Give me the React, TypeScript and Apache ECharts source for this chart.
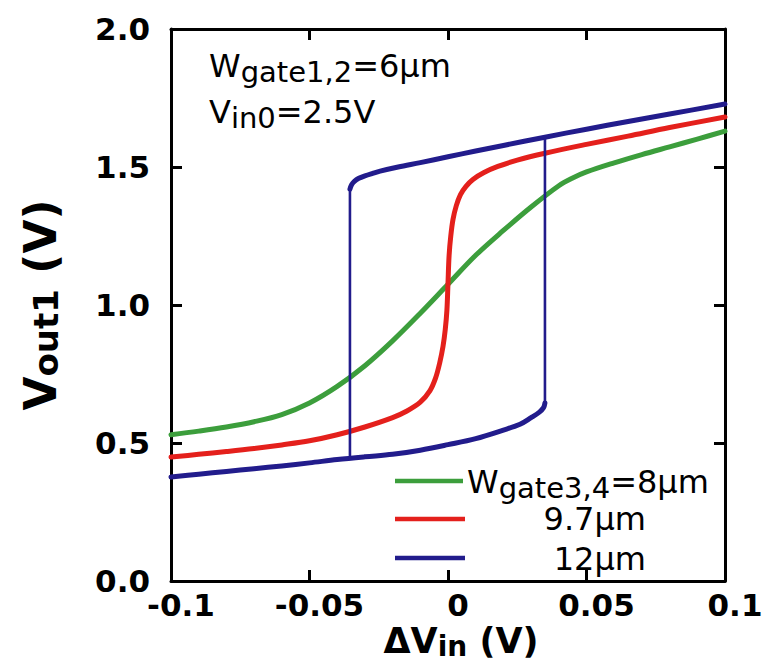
import React, { useEffect, useRef } from 'react';
import * as echarts from 'echarts';

// ---------- data ----------
const X_TICKS = [-0.1, -0.05, 0, 0.05, 0.1];
const X_TICK_LABELS = ['-0.1', '-0.05', '0', '0.05', '0.1'];
const Y_TICKS = [0, 0.5, 1.0, 1.5, 2.0];
const Y_TICK_LABELS = ['0.0', '0.5', '1.0', '1.5', '2.0'];

const SERIES_NAMES = ['Wgate3,4=8μm', '9.7μm', '12μm'];

// Wgate3,4 = 8 µm
const dvGreen = [-0.1, -0.09, -0.08, -0.07, -0.06, -0.05, -0.04, -0.03, -0.02, -0.01, 0, 0.01, 0.02, 0.03, 0.04, 0.045, 0.05, 0.06, 0.07, 0.08, 0.09, 0.1];
const voutGreen = [0.53, 0.543, 0.558, 0.577, 0.603, 0.645, 0.705, 0.78, 0.87, 0.97, 1.075, 1.18, 1.27, 1.355, 1.432, 1.46, 1.482, 1.515, 1.545, 1.573, 1.601, 1.63];

// 9.7 µm
const dvRed = [-0.1, -0.09, -0.08, -0.07, -0.06, -0.05, -0.04, -0.03, -0.02, -0.015, -0.01, -0.0065, -0.0045, -0.003, -0.0018, -0.001, -0.0004, 0, 0.0004, 0.001, 0.0018, 0.003, 0.0045, 0.0065, 0.009, 0.013, 0.018, 0.025, 0.035, 0.05, 0.065, 0.08, 0.1];
const voutRed = [0.449, 0.459, 0.469, 0.48, 0.493, 0.508, 0.53, 0.558, 0.592, 0.615, 0.648, 0.69, 0.735, 0.79, 0.85, 0.91, 0.98, 1.08, 1.18, 1.25, 1.31, 1.36, 1.4, 1.43, 1.455, 1.48, 1.502, 1.525, 1.55, 1.582, 1.612, 1.643, 1.681];

// 12 µm, lower branch (sweep up)
const dvBlueLow = [-0.1, -0.09, -0.08, -0.07, -0.06, -0.05, -0.04, -0.03, -0.02, -0.01, 0, 0.01, 0.02, 0.026, 0.03, 0.033, 0.0345, 0.035];
const voutBlueLow = [0.377, 0.387, 0.397, 0.407, 0.417, 0.428, 0.44, 0.45, 0.459, 0.474, 0.494, 0.516, 0.547, 0.568, 0.592, 0.612, 0.628, 0.645];
// 12 µm, upper branch (sweep down)
const dvBlueHigh = [-0.0354, -0.0348, -0.0338, -0.0322, -0.03, -0.0272, -0.0245, -0.018, -0.01, 0, 0.01, 0.02, 0.035, 0.05, 0.065, 0.08, 0.1];
const voutBlueHigh = [1.42, 1.436, 1.448, 1.459, 1.468, 1.477, 1.485, 1.5, 1.516, 1.537, 1.558, 1.578, 1.608, 1.637, 1.665, 1.692, 1.728];
// 12 µm switching points
const dvBlueSwitch = [0.035, -0.0354];
const voutBlueSwitchFrom = [0.645, 1.42];
const voutBlueSwitchTo = [1.608, 0.44];

// ---------- styles ----------
const GREEN = '#3c9e3c';
const RED = '#e4201c';
const BLUE = '#221c8c';
const FONT = 'DejaVu Sans';

const zip = (xs: number[], ys: number[]) => xs.map((x, i) => [x, ys[i]]);

const labelFor = (v: number, ticks: number[], labels: string[]) => {
  let best = 0;
  for (let i = 1; i < ticks.length; i++) {
    if (Math.abs(ticks[i] - v) < Math.abs(ticks[best] - v)) best = i;
  }
  return labels[best];
};

const axisCommon: any = {
  type: 'value',
  axisLine: { show: true, onZero: false, lineStyle: { color: '#000', width: 3 } },
  axisTick: { show: true, inside: true, length: 11, lineStyle: { color: '#000', width: 3 } },
  splitLine: { show: false },
};

const curve = (name: string, color: string, data: number[][]) => ({
  name,
  type: 'line',
  data,
  showSymbol: false,
  symbol: 'none',
  smooth: 0.35,
  lineStyle: { color, width: 5, cap: 'round', join: 'round' },
  itemStyle: { color },
  z: 3,
});

const vertical = (color: string, x: number, y0: number, y1: number) => ({
  type: 'line',
  data: [[x, y0], [x, y1]],
  showSymbol: false,
  symbol: 'none',
  lineStyle: { color, width: 2.6 },
  itemStyle: { color },
  z: 4,
});

const richText = (color: string, main: number, sub: number, subShift: number, bold = false) => ({
  m: { fontFamily: FONT, fontSize: main, color, lineHeight: 46, fontWeight: bold ? 'bold' : 'normal' },
  s: { fontFamily: FONT, fontSize: sub, color, lineHeight: 46, padding: [subShift * 2, 0, 0, 0], fontWeight: bold ? 'bold' : 'normal' },
});

function buildOption(): any {
  return {
    animation: false,
    backgroundColor: '#fff',
    grid: { left: 171, right: 44, top: 29, bottom: 85, containLabel: false, outerBoundsMode: 'none' },
    xAxis: [
      {
        ...axisCommon,
        position: 'bottom',
        min: X_TICKS[0],
        max: X_TICKS[X_TICKS.length - 1],
        interval: 0.05,
        axisLabel: {
          show: true,
          showMinLabel: true,
          showMaxLabel: true,
          margin: 8,
          fontFamily: FONT,
          fontWeight: 'bold',
          fontSize: 31,
          color: '#000',
          padding: [0, 0, 0, 20],
          formatter: (v: number) => labelFor(v, X_TICKS, X_TICK_LABELS),
        },
      },
      {
        ...axisCommon,
        position: 'top',
        min: X_TICKS[0],
        max: X_TICKS[X_TICKS.length - 1],
        interval: 0.05,
        axisLabel: { show: false },
      },
    ],
    yAxis: [
      {
        ...axisCommon,
        position: 'left',
        min: Y_TICKS[0],
        max: Y_TICKS[Y_TICKS.length - 1],
        interval: 0.5,
        axisLabel: {
          show: true,
          showMinLabel: true,
          showMaxLabel: true,
          margin: 21,
          fontFamily: FONT,
          fontWeight: 'bold',
          fontSize: 31,
          color: '#000',
          formatter: (v: number) => labelFor(v, Y_TICKS, Y_TICK_LABELS),
        },
      },
      {
        ...axisCommon,
        position: 'right',
        min: Y_TICKS[0],
        max: Y_TICKS[Y_TICKS.length - 1],
        interval: 0.5,
        axisLabel: { show: false },
      },
    ],
    series: [
      curve(SERIES_NAMES[0], GREEN, zip(dvGreen, voutGreen)),
      curve(SERIES_NAMES[1], RED, zip(dvRed, voutRed)),
      curve(SERIES_NAMES[2], BLUE, zip(dvBlueLow, voutBlueLow)),
      curve(SERIES_NAMES[2], BLUE, zip(dvBlueHigh, voutBlueHigh)),
      vertical(BLUE, dvBlueSwitch[0], voutBlueSwitchFrom[0], voutBlueSwitchTo[0]),
      vertical(BLUE, dvBlueSwitch[1], voutBlueSwitchFrom[1], voutBlueSwitchTo[1]),
    ],
    graphic: [
      // annotation
      {
        type: 'text',
        x: 209,
        y: 43,
        style: {
          text: '{m|W}{s|gate1,2}{m|=6μm}\n{m|V}{s|in0}{m|=2.5V}',
          verticalAlign: 'top',
          align: 'left',
          rich: richText('#111', 32, 29, 6),
        },
        z: 10,
      },
      // legend lines
      { type: 'line', shape: { x1: 395, y1: 481, x2: 463, y2: 481 }, style: { stroke: GREEN, lineWidth: 4.5 }, z: 10 },
      { type: 'line', shape: { x1: 395, y1: 519, x2: 465, y2: 519 }, style: { stroke: RED, lineWidth: 4.5 }, z: 10 },
      { type: 'line', shape: { x1: 395, y1: 558, x2: 465, y2: 558 }, style: { stroke: BLUE, lineWidth: 4.5 }, z: 10 },
      // legend labels
      {
        type: 'text',
        x: 467,
        y: 482,
        style: {
          text: '{m|W}{s|gate3,4}{m|=8μm}',
          verticalAlign: 'middle',
          align: 'left',
          rich: richText(GREEN, 32, 29, 6),
        },
        z: 10,
      },
      {
        type: 'text',
        x: 646,
        y: 519,
        style: { text: '{m|9.7μm}', verticalAlign: 'middle', align: 'right', rich: richText(RED, 32, 29, 6) },
        z: 10,
      },
      {
        type: 'text',
        x: 646,
        y: 559,
        style: { text: '{m|12μm}', verticalAlign: 'middle', align: 'right', rich: richText(BLUE, 32, 29, 6) },
        z: 10,
      },
      // x axis title
      {
        type: 'text',
        x: 461,
        y: 641,
        style: {
          text: '{m|ΔV}{s|in}{m| (V)}',
          verticalAlign: 'middle',
          align: 'center',
          rich: richText(BLUE, 35, 28, 5, true),
        },
        z: 10,
      },
      // y axis title
      {
        type: 'text',
        x: 40,
        y: 305,
        rotation: Math.PI / 2,
        style: {
          text: '{m|V}{s|out1}{m| (V)}',
          verticalAlign: 'middle',
          align: 'center',
          rich: richText('#000', 44, 34, 6, true),
        },
        z: 10,
      },
    ],
  };
}

export default function App() {
  const ref = useRef<HTMLDivElement>(null);
  useEffect(() => {
    if (!ref.current) return;
    const chart = echarts.init(ref.current, undefined, { renderer: 'svg' });
    chart.setOption(buildOption());
    return () => chart.dispose();
  }, []);
  return (
    <div
      ref={ref}
      style={{ position: 'fixed', left: 0, top: 0, width: 769, height: 666, background: '#fff' }}
    />
  );
}
